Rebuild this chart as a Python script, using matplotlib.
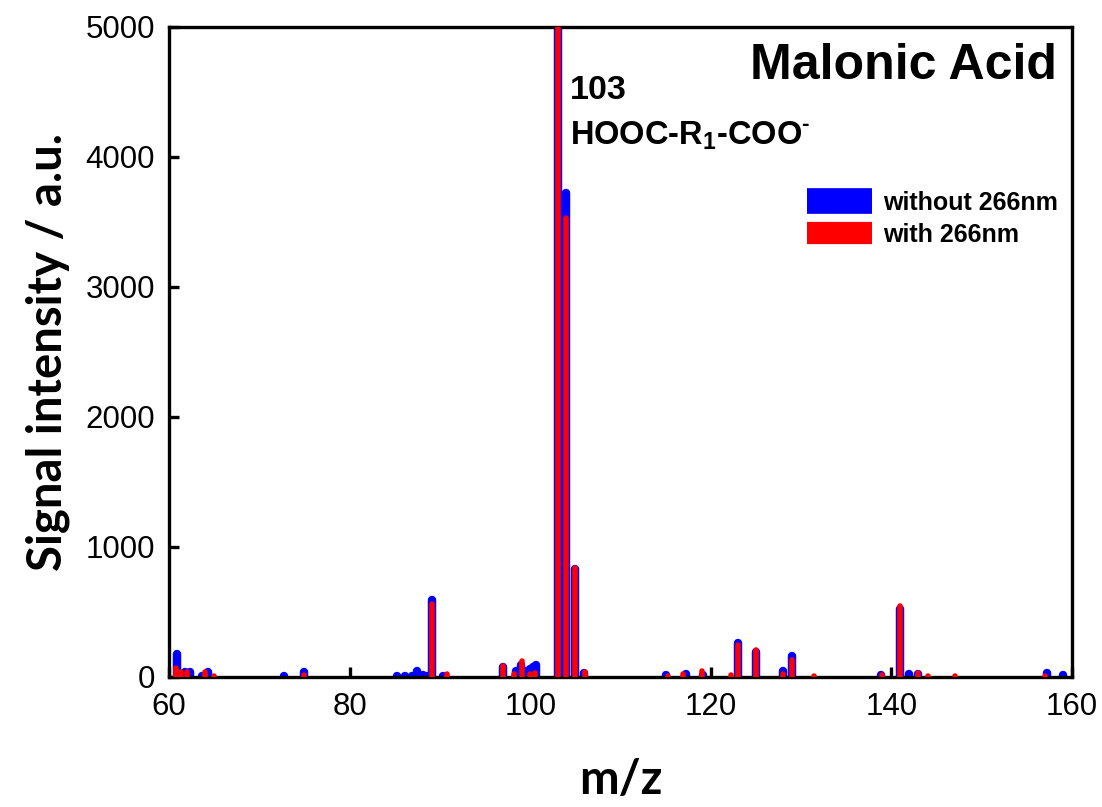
import matplotlib
matplotlib.use("Agg")
import matplotlib.pyplot as plt
from matplotlib.lines import Line2D

plt.rcParams.update({'font.family': 'Liberation Sans', 'font.size': 22})
plt.rcParams['mathtext.fontset'] = 'custom'
plt.rcParams['mathtext.rm'] = 'Liberation Sans:bold'
plt.rcParams['mathtext.bf'] = 'Liberation Sans:bold'
plt.rcParams['mathtext.it'] = 'Liberation Sans:bold'

# peak positions (m/z) and intensities
mz_without = [60.9, 61.8, 62.3, 63.6, 64.3, 72.7, 75.0, 85.2, 86.1, 86.9, 87.5, 88.1, 88.6,
              89.1, 90.3, 97.0, 98.4, 99.0, 99.5, 100.0, 100.3, 100.6, 103.1, 104.0, 105.0,
              106.0, 115.0, 117.2, 119.1, 123.0, 125.0, 128.0, 129.0, 138.9, 141.0, 142.0,
              143.0, 157.2, 159.0]
int_without = [175, 35, 35, 5, 40, 5, 40, 8, 8, 10, 44, 15, 8,
               590, 10, 75, 45, 95, 50, 60, 80, 95, 12000, 3720, 830,
               30, 15, 20, 15, 265, 195, 48, 158, 15, 520, 22,
               22, 27, 15]

mz_with = [60.8, 61.3, 62.0, 64.0, 65.0, 72.5, 75.0, 89.1, 90.8, 97.0, 98.2, 99.05, 100.0,
           100.5, 103.1, 104.0, 105.0, 106.1, 115.3, 116.9, 119.0, 122.2, 123.0, 125.0,
           128.0, 129.0, 131.4, 139.0, 141.0, 143.0, 144.0, 147.0, 157.0]
int_with = [70, 40, 40, 40, 5, 3, 12, 565, 25, 85, 20, 123, 20,
            30, 11500, 3530, 835, 40, 5, 20, 50, 15, 250, 205,
            20, 130, 5, 15, 550, 33, 5, 5, 10]

blue = '#0000ff'
red = '#ff0000'

fig = plt.figure(figsize=(11.02, 8.07), dpi=100)
ax = fig.add_axes([169/1102, 1 - 677/807, 903/1102, 650/807])

ax.vlines(mz_without, 0, int_without, colors=blue, linewidth=6.1, capstyle='round', zorder=2)
ax.vlines(mz_with, 0, int_with, colors=red, linewidth=4.0, capstyle='round', zorder=3)

ax.set_xlim(60, 160)
ax.set_ylim(0, 5000)
ax.set_xticks([60, 80, 100, 120, 140, 160])
ax.set_yticks([0, 1000, 2000, 3000, 4000, 5000])
ax.tick_params(direction='in', length=7, width=2.4, labelsize=22.5, pad=10)
ax.tick_params(axis='x', pad=11)
for s in ax.spines.values():
    s.set_linewidth(2.4)

ax.set_xlabel('m/z', family='Lato', fontweight='bold', fontsize=34, labelpad=26)
ax.set_ylabel('Signal intensity / a.u.', family='Lato', fontweight='bold', fontsize=34, labelpad=11)

ax.text(0.983, 0.975, 'Malonic Acid', transform=ax.transAxes, ha='right', va='top',
        fontsize=36, fontweight='bold')
ax.text(104.4, 4446, '103', fontsize=24.5, fontweight='bold', va='baseline')
ax.text(104.4, 4092, r'HOOC-R$_{1}$-COO$^{\text{-}}$', fontsize=23.5, fontweight='bold',
        va='baseline')

handles = [Line2D([], [], color=blue, linewidth=18.5, solid_capstyle='butt'),
           Line2D([], [], color=red, linewidth=16, solid_capstyle='butt')]
ax.legend(handles, ['without 266nm', 'with 266nm'], loc='upper left',
          bbox_to_anchor=(807/1102, 1 - 191/807), bbox_transform=fig.transFigure,
          frameon=False, borderpad=0, borderaxespad=0, handlelength=2.6,
          handletextpad=0.45, labelspacing=0.32, prop={'weight': 'bold', 'size': 18})

fig.savefig('out.png', dpi=100)
